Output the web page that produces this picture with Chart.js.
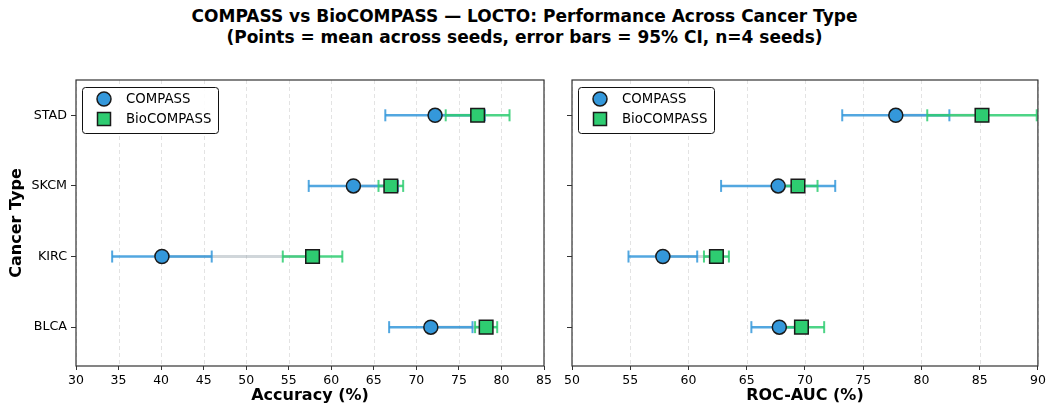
<!DOCTYPE html>
<html><head><meta charset="utf-8">
<script src="https://cdn.jsdelivr.net/npm/chart.js@4.4.0/dist/chart.umd.min.js"></script>
<style>
html,body{margin:0;padding:0;background:#fff;}
body{width:1049px;height:405px;position:relative;overflow:hidden;font-family:"DejaVu Sans",sans-serif;}
#title{position:absolute;left:0;top:6px;width:1049px;text-align:center;font-weight:bold;font-size:17px;line-height:21px;color:#000;}
canvas{position:absolute;}
</style></head>
<body>
<div id="title">COMPASS vs BioCOMPASS — LOCTO: Performance Across Cancer Type<br>(Points = mean across seeds, error bars = 95% CI, n=4 seeds)</div>
<canvas id="c1" width="560" height="345" style="left:0;top:60px"></canvas>
<canvas id="c2" width="489" height="345" style="left:560px;top:60px"></canvas>
<script>
const categories = ["BLCA","KIRC","SKCM","STAD"];
const seriesNames = ["COMPASS","BioCOMPASS"];
const accCompassMean = [71.7, 40.1, 62.6, 72.2];
const accCompassCI   = [4.9, 5.85, 5.25, 5.85];
const accBioMean     = [78.2, 57.8, 67.0, 77.2];
const accBioCI       = [1.3, 3.5, 1.45, 3.75];
const aucCompassMean = [67.8, 57.8, 67.7, 77.8];
const aucCompassCI   = [2.4, 2.95, 4.9, 4.6];
const aucBioMean     = [69.7, 62.4, 69.4, 85.2];
const aucBioCI       = [1.95, 1.07, 1.68, 4.7];
const accTicks = [30,35,40,45,50,55,60,65,70,75,80,85];
const aucTicks = [50,55,60,65,70,75,80,85,90];

const BLUE = "#3498db", GREEN = "#2ecc71";
const BLUE_BAR = "rgba(52,152,219,0.85)", GREEN_BAR = "rgba(46,204,113,0.85)";
const FONT = '"DejaVu Sans", sans-serif';

function pts(means){ return means.map((m,i)=>({x:m,y:i})); }

const overlay = {
  id:'overlay',
  beforeDatasetsDraw(chart){
    const ctx = chart.ctx, xs = chart.scales.x, ys = chart.scales.y, a = chart.chartArea;
    const o = chart.options.plugins.overlay;
    ctx.save();
    ctx.strokeStyle = "rgba(176,176,176,0.45)";
    ctx.lineWidth = 0.8;
    ctx.setLineDash([4,3]);
    o.ticks.forEach(t=>{
      const x = Math.round(xs.getPixelForValue(t))+0.5;
      ctx.beginPath(); ctx.moveTo(x,a.top); ctx.lineTo(x,a.bottom); ctx.stroke();
    });
    ctx.setLineDash([]);
    ctx.strokeStyle = "rgba(150,165,172,0.45)";
    ctx.lineWidth = 3;
    categories.forEach((c,i)=>{
      const y = ys.getPixelForValue(i);
      ctx.beginPath();
      ctx.moveTo(xs.getPixelForValue(o.m1[i]),y);
      ctx.lineTo(xs.getPixelForValue(o.m2[i]),y);
      ctx.stroke();
    });
    const bars = (means, ci, col)=>{
      ctx.strokeStyle = col; ctx.lineWidth = 2.5;
      means.forEach((m,i)=>{
        const y = ys.getPixelForValue(i);
        const x1 = xs.getPixelForValue(m-ci[i]), x2 = xs.getPixelForValue(m+ci[i]);
        ctx.beginPath(); ctx.moveTo(x1,y); ctx.lineTo(x2,y); ctx.stroke();
        ctx.lineWidth = 2;
        [x1,x2].forEach(x=>{ ctx.beginPath(); ctx.moveTo(x,y-6); ctx.lineTo(x,y+6); ctx.stroke(); });
        ctx.lineWidth = 2.5;
      });
    };
    bars(o.m1,o.c1,BLUE_BAR);
    bars(o.m2,o.c2,GREEN_BAR);
    ctx.restore();
  },
  afterDraw(chart){
    const ctx = chart.ctx, a = chart.chartArea;
    ctx.save();
    ctx.strokeStyle = "#333"; ctx.lineWidth = 1.2;
    ctx.strokeRect(a.left, a.top, a.right-a.left, a.bottom-a.top);
    const lx = a.left+6, ly = a.top+7, lw = 136, lh = 46;
    ctx.fillStyle = "rgba(255,255,255,0.9)";
    ctx.strokeStyle = "#111"; ctx.lineWidth = 1;
    ctx.beginPath();
    ctx.roundRect(lx+0.5, ly+0.5, lw, lh, 3);
    ctx.fill(); ctx.stroke();
    const rows = [ly+12, ly+32];
    ctx.lineWidth = 1.5; ctx.strokeStyle = "#1a1a1a";
    ctx.fillStyle = BLUE;
    ctx.beginPath(); ctx.arc(lx+22, rows[0], 7, 0, Math.PI*2); ctx.fill(); ctx.stroke();
    ctx.fillStyle = GREEN;
    ctx.fillRect(lx+15.5, rows[1]-6.5, 13, 13); ctx.strokeRect(lx+15.5, rows[1]-6.5, 13, 13);
    ctx.fillStyle = "#000"; ctx.font = "13.3px "+FONT; ctx.textBaseline = "middle"; ctx.textAlign = "left";
    ctx.fillText(seriesNames[0], lx+44, rows[0]+1);
    ctx.fillText(seriesNames[1], lx+44, rows[1]+1);
    ctx.restore();
  }
};

function makeChart(id, m1, c1, m2, c2, ticks, xmin, xmax, xtitle, showY, axisW, padRight){
  return new Chart(document.getElementById(id), {
    type:'scatter',
    data:{datasets:[
      {label:seriesNames[0], data:pts(m1), pointStyle:'circle', pointRadius:7, pointHoverRadius:7,
       backgroundColor:BLUE, borderColor:"#1a1a1a", borderWidth:1.5},
      {label:seriesNames[1], data:pts(m2), pointStyle:'rect', pointRadius:9.6, pointHoverRadius:9.6,
       backgroundColor:GREEN, borderColor:"#1a1a1a", borderWidth:1.5}
    ]},
    options:{
      responsive:false, animation:false, devicePixelRatio:1,
      layout:{padding:{left:0, right:padRight, top:20, bottom:0}},
      plugins:{legend:{display:false}, tooltip:{enabled:false},
        overlay:{m1,c1,m2,c2,ticks}},
      scales:{
        x:{type:'linear', min:xmin, max:xmax,
           afterBuildTicks(s){ s.ticks = ticks.map(v=>({value:v})); },
           afterFit(s){ s.height = 39; },
           grid:{drawOnChartArea:false, drawTicks:true, tickLength:4, tickColor:"#333", tickWidth:1},
           border:{display:false},
           ticks:{color:"#000", font:{family:FONT, size:12.5}, padding:3, maxRotation:0, autoSkip:false},
           title:{display:true, text:xtitle, color:"#000", font:{family:FONT, size:16, weight:'bold'}, padding:{top:0,bottom:0}}
        },
        y:{type:'linear', min:-0.55, max:3.5,
           afterBuildTicks(s){ s.ticks = categories.map((c,i)=>({value:i})); },
           afterFit(s){ s.width = axisW; },
           grid:{drawOnChartArea:false, drawTicks:true, tickLength:5, tickColor:"#333", tickWidth:1},
           border:{display:false},
           ticks:{display:showY, color:"#000", font:{family:FONT, size:12.7}, padding:4,
                  callback:(v)=>categories[v] ?? ''},
           title:{display:showY, text:"Cancer Type", color:"#000", font:{family:FONT, size:16, weight:'bold'}, padding:{top:7,bottom:0}}
        }
      }
    },
    plugins:[overlay]
  });
}
makeChart('c1', accCompassMean, accCompassCI, accBioMean, accBioCI, accTicks, 30, 85, "Accuracy (%)", true, 76, 16);
makeChart('c2', aucCompassMean, aucCompassCI, aucBioMean, aucBioCI, aucTicks, 50, 90, "ROC-AUC (%)", false, 12, 9);
</script>
</body></html>
